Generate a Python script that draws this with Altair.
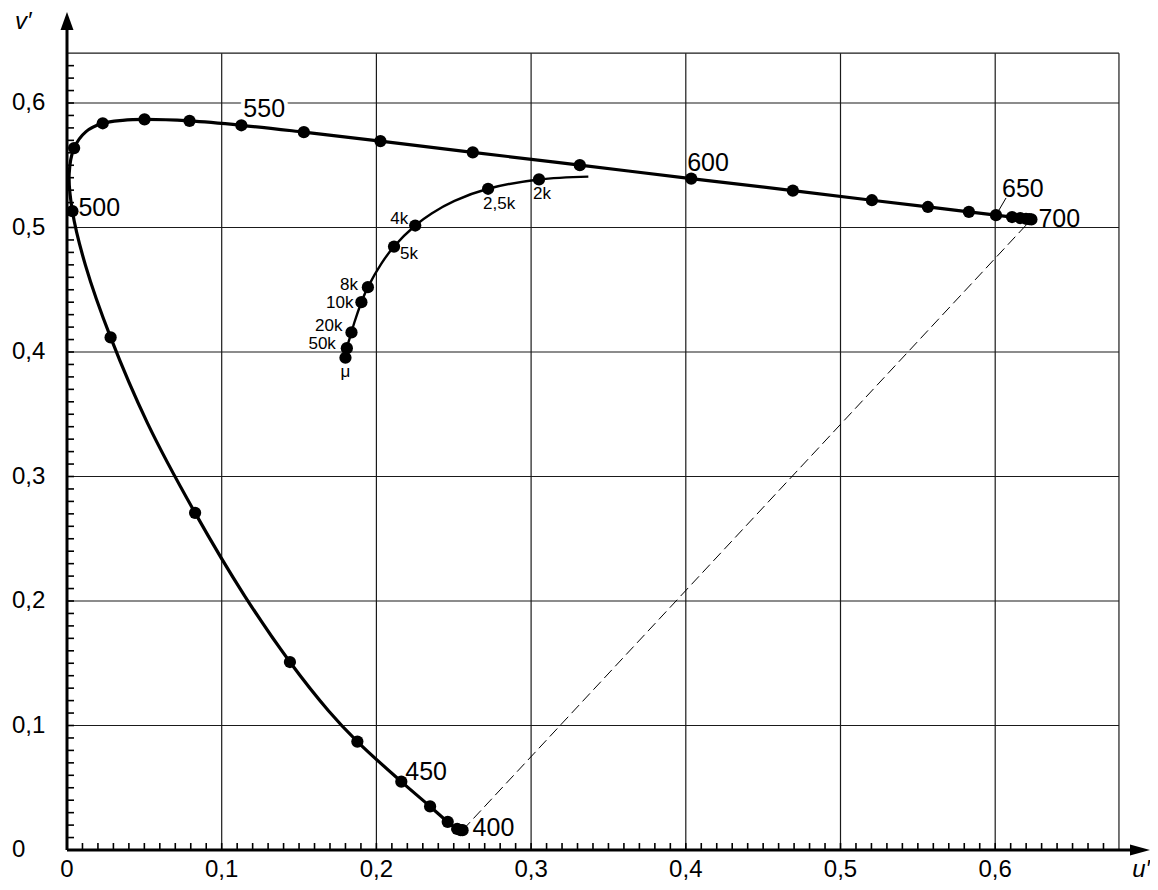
import altair as alt
import pandas as pd

# ---------------- data ----------------
# spectral locus (u', v') with wavelength in nm
wl = [400, 410, 420, 430, 440, 450, 460, 465, 470, 475, 480, 485, 490, 495, 500, 505,
      510, 515, 520, 525, 530, 540, 550, 560, 570, 580, 590, 600, 610, 620, 630, 640,
      650, 660, 670, 680, 690, 700]
locus_u = [0.2557, 0.2545, 0.2522, 0.2461, 0.2347, 0.2161, 0.1877, 0.1690, 0.1441, 0.1147,
           0.0828, 0.0521, 0.0282, 0.0119, 0.0035, 0.0014, 0.0046, 0.0123, 0.0231, 0.0360,
           0.0501, 0.0792, 0.1127, 0.1531, 0.2026, 0.2623, 0.3315, 0.4035, 0.4692, 0.5203,
           0.5565, 0.5830, 0.6005, 0.6109, 0.6162, 0.6199, 0.6220, 0.6234]
locus_v = [0.0159, 0.0159, 0.0169, 0.0226, 0.0350, 0.0549, 0.0871, 0.1119, 0.1510, 0.2044,
           0.2708, 0.3427, 0.4117, 0.4698, 0.5131, 0.5432, 0.5638, 0.5770, 0.5837, 0.5861,
           0.5868, 0.5856, 0.5821, 0.5766, 0.5694, 0.5604, 0.5501, 0.5393, 0.5296, 0.5219,
           0.5165, 0.5125, 0.5099, 0.5084, 0.5076, 0.5070, 0.5067, 0.5065]
dot_wl = [400, 410, 420, 430, 440, 450, 460, 470, 480, 490, 500, 510, 520, 530, 540, 550,
          560, 570, 580, 590, 600, 610, 620, 630, 640, 650, 660, 670, 680, 690, 700]

# Planckian locus (u', v'), colour temperature in K (last = infinity)
planck_T = [1667, 2000, 2500, 3000, 3500, 4000, 5000, 6000, 8000, 10000, 15000, 20000, 50000, 1000000]
planck_u = [0.3370, 0.3051, 0.2722, 0.2505, 0.2357, 0.2251, 0.2114, 0.2033, 0.1945, 0.1903,
            0.1857, 0.1839, 0.1809, 0.1800]
planck_v = [0.5409, 0.5386, 0.5311, 0.5214, 0.5113, 0.5016, 0.4847, 0.4712, 0.4521, 0.4400,
            0.4235, 0.4157, 0.4031, 0.3954]
planck_dot_T = [2000, 2500, 4000, 5000, 8000, 10000, 20000, 50000, 1000000]
planck_text = ["2k", "2,5k", "4k", "5k", "8k", "10k", "20k", "50k", "\u03bc"]

# wavelength labels
nm_labels = [400, 450, 500, 550, 600, 650, 700]
# leader line to the "650" label
leader_u = [0.6005, 0.6070]
leader_v = [0.5099, 0.5237]

# axes
x_ticks = [0, 0.1, 0.2, 0.3, 0.4, 0.5, 0.6]
x_tick_text = ["0", "0,1", "0,2", "0,3", "0,4", "0,5", "0,6"]
y_ticks = [0, 0.1, 0.2, 0.3, 0.4, 0.5, 0.6]
y_tick_text = ["0", "0,1", "0,2", "0,3", "0,4", "0,5", "0,6"]
grid_u = [0.1, 0.2, 0.3, 0.4, 0.5, 0.6, 0.68]
grid_v = [0.1, 0.2, 0.3, 0.4, 0.5, 0.6, 0.64]
minor_u = [i / 100 for i in range(1, 68)]
minor_v = [i / 100 for i in range(1, 64)]
U_FRAME = 0.68
V_FRAME = 0.64

# ---------------- layout ----------------
W, H = 1083, 838
XMAX = W / 1547.0
YMAX = H / 1245.0
FONT = "Liberation Sans"

xs = alt.Scale(domain=[0, XMAX], nice=False, zero=False)
ys = alt.Scale(domain=[0, YMAX], nice=False, zero=False)


def X(f, **kw):
    return alt.X(f, type="quantitative", scale=xs, axis=None, **kw)


def Y(f, **kw):
    return alt.Y(f, type="quantitative", scale=ys, axis=None, **kw)


locus = pd.DataFrame({"wl": wl, "u": locus_u, "v": locus_v})
dots = locus[locus["wl"].isin(dot_wl)]
planck = pd.DataFrame({"T": planck_T, "u": planck_u, "v": planck_v})
pdots = planck[planck["T"].isin(planck_dot_T)].copy()
pdots["text"] = planck_text
one = pd.DataFrame({"a": [0]})

layers = []

# grid
vgrid = pd.DataFrame({"u": grid_u, "v0": 0.0, "v1": V_FRAME})
hgrid = pd.DataFrame({"v": grid_v, "u0": 0.0, "u1": U_FRAME})
layers.append(alt.Chart(vgrid).mark_rule(color="#1a1a1a", strokeWidth=1.2).encode(
    x=X("u"), y=Y("v0"), y2="v1"))
layers.append(alt.Chart(hgrid).mark_rule(color="#1a1a1a", strokeWidth=1.2).encode(
    y=Y("v"), x=X("u0"), x2="u1"))

# minor ticks (pointing inward)
layers.append(alt.Chart(pd.DataFrame({"u": minor_u})).mark_rule(color="black", strokeWidth=1.6).encode(
    x=X("u"), y=alt.value(H), y2=alt.value(H - 7)))
layers.append(alt.Chart(pd.DataFrame({"v": minor_v})).mark_rule(color="black", strokeWidth=1.6).encode(
    y=Y("v"), x=alt.value(0), x2=alt.value(7)))

# axis lines + arrowheads
layers.append(alt.Chart(one).mark_rule(color="black", strokeWidth=3).encode(
    x=alt.value(0), x2=alt.value(W - 12), y=alt.value(H)))
layers.append(alt.Chart(one).mark_rule(color="black", strokeWidth=3).encode(
    x=alt.value(0), y=alt.value(H), y2=alt.value(12)))
layers.append(alt.Chart(one).mark_point(shape="M1,0L-1,-0.55L-1,0.55Z", filled=True, size=400,
                                        color="black", opacity=1, strokeWidth=0).encode(
    x=alt.value(W - 10), y=alt.value(H)))
layers.append(alt.Chart(one).mark_point(shape="M0,-1L0.72,1L-0.72,1Z", filled=True, size=324,
                                        color="black", opacity=1, strokeWidth=0).encode(
    x=alt.value(0), y=alt.value(9)))

# purple line (dashed)
purple = locus[locus["wl"].isin([400, 700])]
layers.append(alt.Chart(purple).mark_line(color="black", strokeWidth=1, strokeDash=[11, 5]).encode(
    x=X("u"), y=Y("v"), order="wl"))

# spectral locus
layers.append(alt.Chart(locus).mark_line(color="black", strokeWidth=3.2, interpolate="catmull-rom").encode(
    x=X("u"), y=Y("v"), order="wl"))
layers.append(alt.Chart(dots).mark_circle(color="black", size=150, opacity=1).encode(
    x=X("u"), y=Y("v")))

# Planckian locus
layers.append(alt.Chart(planck).mark_line(color="black", strokeWidth=2.4, interpolate="catmull-rom").encode(
    x=X("u"), y=Y("v"), order="T"))
layers.append(alt.Chart(pdots).mark_circle(color="black", size=150, opacity=1).encode(
    x=X("u"), y=Y("v")))

# leader line for 650
layers.append(alt.Chart(pd.DataFrame({"u": leader_u, "v": leader_v})).mark_line(
    color="black", strokeWidth=1).encode(x=X("u"), y=Y("v")))

# wavelength labels: (align, dx, dy, halo)
nm_style = {400: ("left", 10, -2, False), 450: ("left", 4, -10, False), 500: ("left", 6, -3, False),
            550: ("left", 2, -16, True), 600: ("left", -4, -16, False), 650: ("left", 6, -26, False),
            700: ("left", 7, 0, False)}
for n in nm_labels:
    al, dx, dy, halo = nm_style[n]
    d = locus[locus["wl"] == n].copy()
    d["text"] = str(n)
    if halo:
        layers.append(alt.Chart(d).mark_text(align=al, baseline="middle", dx=dx, dy=dy, font=FONT,
                                             fontSize=25, color="white", stroke="white",
                                             strokeWidth=8).encode(
            x=X("u"), y=Y("v"), text="text"))
    layers.append(alt.Chart(d).mark_text(align=al, baseline="middle", dx=dx, dy=dy, font=FONT,
                                         fontSize=25, color="black").encode(
        x=X("u"), y=Y("v"), text="text"))

# temperature labels
t_style = {"2k": ("center", 3, 15), "2,5k": ("center", 11, 15), "4k": ("right", -7, -7),
           "5k": ("left", 6, 7), "8k": ("right", -10, -2), "10k": ("right", -8, 1),
           "20k": ("right", -9, -6), "50k": ("right", -11, -4), "\u03bc": ("center", 0, 14)}
for t in planck_text:
    al, dx, dy = t_style[t]
    d = pdots[pdots["text"] == t]
    layers.append(alt.Chart(d).mark_text(align=al, baseline="middle", dx=dx, dy=dy, font=FONT,
                                         fontSize=17, color="black").encode(
        x=X("u"), y=Y("v"), text="text"))

# tick labels
layers.append(alt.Chart(pd.DataFrame({"u": x_ticks, "t": x_tick_text})).mark_text(
    align="center", baseline="alphabetic", font=FONT, fontSize=24, color="black").encode(
    x=X("u"), y=alt.value(H + 27), text="t"))
layers.append(alt.Chart(pd.DataFrame({"v": y_ticks, "t": y_tick_text})).mark_text(
    align="left", baseline="middle", font=FONT, fontSize=24, color="black").encode(
    y=Y("v"), x=alt.value(-55), text="t"))

# axis titles
layers.append(alt.Chart(pd.DataFrame({"t": ["v\u2032"]})).mark_text(
    align="left", baseline="middle", font=FONT, fontSize=24, fontStyle="italic", color="black").encode(
    x=alt.value(-52), y=alt.value(10), text="t"))
layers.append(alt.Chart(pd.DataFrame({"t": ["u\u2032"]})).mark_text(
    align="right", baseline="alphabetic", font=FONT, fontSize=24, fontStyle="italic", color="black").encode(
    x=alt.value(W), y=alt.value(H + 27), text="t"))

chart = alt.layer(*layers).properties(
    width=W, height=H,
    autosize=alt.AutoSizeParams(type="none"),
    padding={"left": 59, "top": 4, "right": 0, "bottom": 32},
).configure_view(stroke=None)

chart.save("out.html", embed_options={"renderer": "svg", "actions": False})
